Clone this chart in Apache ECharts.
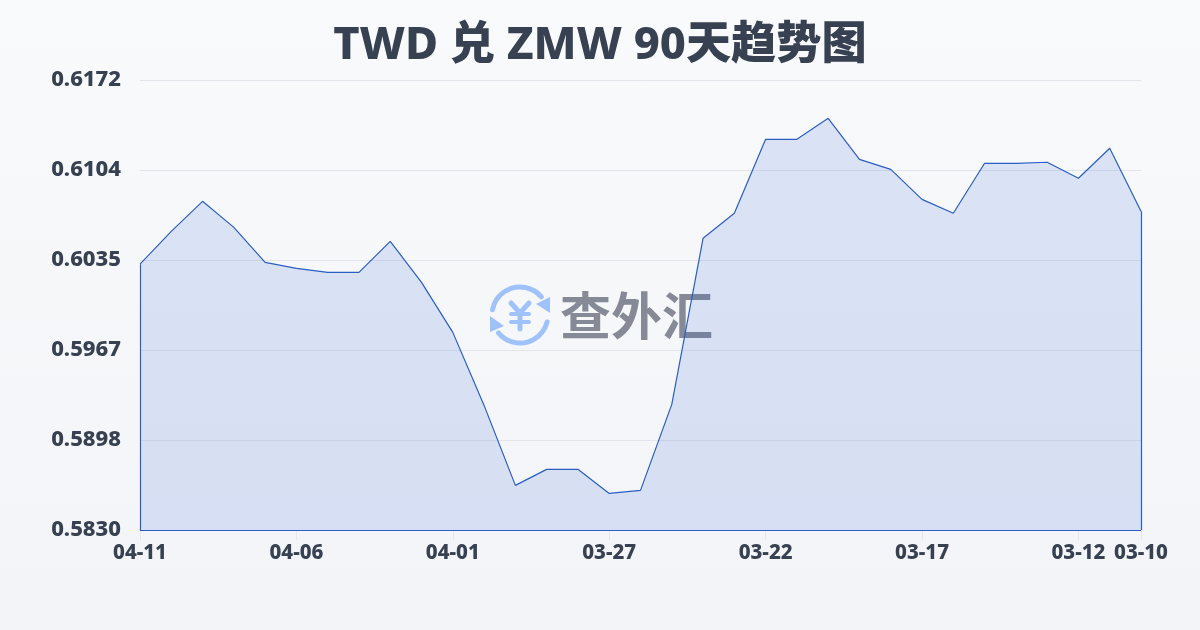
<!DOCTYPE html>
<html><head><meta charset="utf-8">
<style>html,body{margin:0;padding:0;background:#f8fafc}#c{width:1200px;height:630px}</style>
<script src="https://cdn.jsdelivr.net/npm/echarts@6/dist/echarts.min.js"></script>
</head><body><div id="c"></div>
<script>
const titleText = 'TWD 兑 ZMW 90天趋势图';
const watermarkText = '查外汇';
const dates = ['04-11','04-10','04-09','04-08','04-07','04-06','04-05','04-04','04-03','04-02','04-01','03-31','03-30','03-29','03-28','03-27','03-26','03-25','03-24','03-23','03-22','03-21','03-20','03-19','03-18','03-17','03-16','03-15','03-14','03-13','03-12','03-11','03-10'];
const labelledDates = ['04-11','04-06','04-01','03-27','03-22','03-17','03-12','03-10'];
const rates = [0.60320,0.60570,0.60798,0.60600,0.60334,0.60289,0.60258,0.60258,0.60494,0.60182,0.59802,0.59247,0.58639,0.58761,0.58761,0.58578,0.58601,0.59255,0.60517,0.60707,0.61269,0.61269,0.61429,0.61117,0.61041,0.60813,0.60707,0.61087,0.61087,0.61095,0.60973,0.61201,0.60722];
const yTicks = [0.5830,0.58984,0.59668,0.60352,0.61036,0.6172];
const yMin = 0.5830, yMax = 0.6172;
const font = '"Noto Sans","Noto Sans CJK SC",sans-serif';
const ink = '#374151', blue = '#2b5ec4', logo = '#a0c2fb';
const chart = echarts.init(document.getElementById('c'), null, {renderer:'canvas'});
const lastIdx = dates.length - 1;
const cx = 520, cy = 315;
const bar = (pts, w) => ({type:'polyline',shape:{points:pts},style:{stroke:logo,lineWidth:w,fill:null,lineCap:'round',lineJoin:'round'}});
chart.setOption({
  animation:false,
  backgroundColor:new echarts.graphic.LinearGradient(0,0,0,1,[{offset:0,color:'#f9fafc'},{offset:1,color:'#f2f4f7'}]),
  title:{text:titleText,left:'center',top:19,textStyle:{fontFamily:font,fontSize:45.2,fontWeight:800,color:ink}},
  grid:{left:140,right:59,top:80,bottom:100},
  xAxis:{type:'category',boundaryGap:false,data:dates,
    axisLine:{show:false},
    axisTick:{show:true,length:10,lineStyle:{color:'#e3e6eb'},interval:(i,v)=>labelledDates.includes(v)},
    axisLabel:{interval:(i,v)=>labelledDates.includes(v),hideOverlap:false,margin:13,fontFamily:font,fontSize:20.5,fontWeight:800,color:ink},
    splitLine:{show:false}},
  yAxis:{type:'value',min:yMin,max:yMax,
    axisLine:{show:false},axisTick:{show:false,customValues:yTicks},
    axisLabel:{customValues:yTicks,formatter:v=>v.toFixed(4),margin:19,fontFamily:font,fontSize:22,fontWeight:800,color:ink},
    splitLine:{show:true,lineStyle:{color:'#e2e5ea',width:1}}},
  graphic:[
    {type:'text',z:1,style:{text:watermarkText,x:560,y:290,font:'bold 51px "Noto Sans CJK SC"',fill:'#858a96'}},
    {type:'group',z:1,children:[
      {type:'arc',shape:{cx,cy,r:28,startAngle:-2.95,endAngle:-0.7},style:{stroke:logo,lineWidth:5,fill:null,lineCap:'round'}},
      {type:'arc',shape:{cx,cy,r:28,startAngle:0.25,endAngle:2.45},style:{stroke:logo,lineWidth:5,fill:null,lineCap:'round'}},
      {type:'polygon',shape:{points:[[550,297],[550,313],[536,304]]},style:{fill:logo}},
      {type:'polygon',shape:{points:[[490,316],[490,332],[504,326]]},style:{fill:logo}},
      bar([[511,303],[520,313],[529,303]],5),
      bar([[511,314],[529,314]],4),
      bar([[511,322],[529,322]],4),
      bar([[520,313],[520,329]],5)
    ]}
  ],
  series:[{type:'line',data:rates,smooth:false,symbol:'none',z:3,
    lineStyle:{color:blue,width:1.2},
    areaStyle:{color:'rgba(45,95,215,0.2)',origin:'start'},
    markLine:{silent:true,symbol:'none',label:{show:false},lineStyle:{color:blue,width:1.2,type:'solid'},
      data:[
        [{xAxis:dates[0],yAxis:rates[0]},{xAxis:dates[0],yAxis:yMin}],
        [{xAxis:dates[lastIdx],yAxis:rates[lastIdx]},{xAxis:dates[lastIdx],yAxis:yMin}],
        [{xAxis:dates[0],yAxis:yMin},{xAxis:dates[lastIdx],yAxis:yMin}]
      ]}
  }]
});
</script></body></html>
